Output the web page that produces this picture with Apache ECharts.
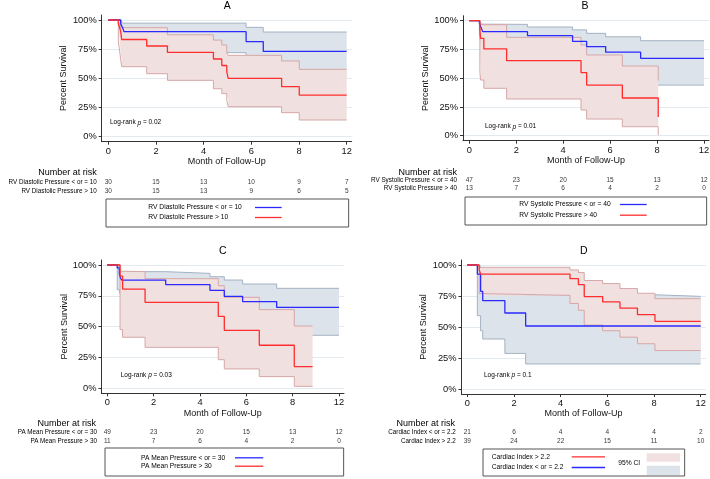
<!DOCTYPE html>
<html><head><meta charset="utf-8">
<script src="https://cdn.jsdelivr.net/npm/echarts@6/dist/echarts.min.js"></script>
<style>html,body{margin:0;padding:0;background:#fff}#c{width:710px;height:479px}</style>
</head><body><div id="c"></div>
<script>
// ================= DATA =================
const xTickPos = [0, 2, 4, 6, 8, 10];
const xTickLabels = ['0', '2', '4', '6', '8', '12'];
const yTickVals = [0, 25, 50, 75, 100];
const riskCols = [0, 2, 4, 6, 8, 10];
const panelTitles = ['A', 'B', 'C', 'D'];
const logRankP = ['0.02', '0.01', '0.03', '0.1'];

// ---- Panel A ----
const groupsA = ['RV Diastolic Pressure < or = 10', 'RV Diastolic Pressure > 10'];
const riskA1 = [30, 15, 13, 10, 9, 7];
const riskA2 = [30, 15, 13, 9, 6, 5];
const kmA1 = [[0,100],[0.52,96.7],[0.6,93.3],[0.66,90],[5.78,81.5],[6.5,73.2],[10,73.2]];
const kmA2 = [[0,100],[0.42,96.7],[0.48,93.3],[0.52,90],[0.56,83.3],[1.61,77.7],[2.48,72.2],[4.41,66.6],[4.76,61],[4.97,55.5],[5.03,50],[7.27,42.9],[8.01,35.7],[10,35.7]];
const ciA1x  = [0, 0.52, 0.6, 0.66, 5.78, 6.5, 10];
const ciA1up = [100, 99, 97.3, 97.3, 93.7, 89.7, 89.7];
const ciA1lo = [100, 88, 80, 72, 62, 52, 52];
const ciA2x  = [0, 0.42, 0.48, 0.52, 0.56, 1.61, 2.48, 4.41, 4.76, 4.97, 5.03, 7.27, 8.01, 10];
const ciA2up = [100, 99, 96, 93.4, 93.4, 93.4, 87.3, 82.8, 78.6, 72, 69.7, 64.9, 57.7, 57.7];
const ciA2lo = [100, 82, 72.6, 66, 60, 54, 48.3, 41.1, 36.9, 31, 25.7, 20.6, 14.3, 14.3];

// ---- Panel B ----
const groupsB = ['RV Systolic Pressure < or = 40', 'RV Systolic Pressure > 40'];
const riskB1 = [47, 23, 20, 15, 13, 12];
const riskB2 = [13, 7, 6, 4, 2, 0];
const kmB1 = [[0,100],[0.43,97.9],[0.5,94],[0.57,90.5],[2.48,87],[4.4,82],[5,77.5],[5.81,72.6],[7.3,67.3],[10,67.3]];
const kmB2 = [[0,100],[0.45,92.3],[0.48,84.6],[0.62,75.5],[1.59,65.2],[4.76,54.8],[5,44],[6.52,32.8],[8.05,16.2]];
const ciB1x  = [0, 0.43, 0.5, 0.57, 2.48, 4.4, 5, 5.81, 7.3, 10];
const ciB1up = [100, 99.5, 97, 96.8, 94.5, 92, 89, 86, 82.6, 82.6];
const ciB1lo = [100, 88, 80, 78, 74, 68, 63, 57, 44, 44];
const ciB2x  = [0, 0.45, 0.48, 0.62, 1.59, 4.76, 5, 6.52, 8.05];
const ciB2up = [100, 97, 96.5, 96.5, 85.5, 78.9, 70.2, 60.6, 48];
const ciB2lo = [100, 55.7, 48.4, 41.2, 31.9, 22.3, 14.5, 7.8, 0.5];

// ---- Panel C ----
const groupsC = ['PA Mean Pressure < or = 30', 'PA Mean Pressure > 30'];
const riskC1 = [49, 23, 20, 15, 13, 12];
const riskC2 = [11, 7, 6, 4, 2, 0];
const kmC1 = [[0,100],[0.43,97.6],[0.52,92.7],[0.57,89.5],[0.62,87.8],[2.52,84.1],[4.43,79.5],[5.05,74.6],[5.84,70.3],[7.31,65.7],[10,65.7]];
const kmC2 = [[0,100],[0.55,90.9],[0.66,80.5],[1.63,69.7],[4.79,58.4],[5.05,47],[6.56,34.9],[8.07,17.6],[8.86,17.6]];
const ciC1x  = [0, 0.43, 0.52, 0.57, 0.62, 2.52, 4.43, 5.05, 5.84, 7.31, 10];
const ciC1up = [100, 99, 96, 94.6, 94.6, 93.2, 90.5, 87.8, 84.6, 81.1, 81.1];
const ciC1lo = [100, 80, 78, 76, 74, 70, 64, 58, 52, 43, 43];
const ciC2x  = [0, 0.55, 0.66, 1.63, 4.79, 5.05, 6.56, 8.07, 8.86];
const ciC2up = [100, 95, 94.6, 88.9, 83.2, 73.8, 63.8, 50.5, 50.5];
const ciC2lo = [100, 47.6, 41.4, 33.2, 23.2, 15.7, 9.5, 1.6, 1.6];

// ---- Panel D ----
const groupsD = ['Cardiac Index < or = 2.2', 'Cardiac Index > 2.2'];
const riskD1 = [21, 6, 4, 4, 4, 2];
const riskD2 = [39, 24, 22, 15, 11, 10];
const kmD1 = [[0,100],[0.43,92.7],[0.57,78.8],[0.66,71.2],[1.61,61.3],[2.5,50.8],[10,50.8]];
const kmD2 = [[0,100],[0.51,96.2],[0.57,92.7],[4.4,89],[4.76,84.1],[5.01,74.5],[5.8,70.2],[6.54,65.3],[7.29,59.9],[8.04,54.6],[10,54.6]];
const ciD1x  = [0, 0.43, 0.57, 0.66, 1.61, 2.5, 8.04, 10];
const ciD1up = [100, 99, 93, 87, 80, 76, 74.7, 74.7];
const ciD1lo = [100, 59.1, 47, 40.3, 28.7, 20.2, 20.2, 20.2];
const ciD2x  = [0, 0.51, 0.57, 4.4, 4.76, 5.01, 5.8, 6.54, 7.29, 8.04, 10];
const ciD2up = [100, 98.1, 98.1, 96, 93.9, 87.5, 85, 81, 77.2, 72.8, 72.8];
const ciD2lo = [100, 77, 75.5, 69, 63.5, 51.5, 47, 41.8, 36.5, 31, 31];

// ================= STYLE / LAYOUT =================
const FONT = '"Liberation Sans", Arial, Helvetica, sans-serif';
const BLUE = '#2a2aff', RED = '#ff2d2d';
const GFILL = '#dde3ea', GEDGE = '#a3b2c3';
const PFILL = '#f1e0e0', PEDGE = '#d6a7a7';
const AXC = '#333';

const panels = [
  { groups: groupsA, risk: [riskA1, riskA2], km: [kmA1, kmA2],
    ci: [[ciA1x, ciA1up, ciA1lo], [ciA2x, ciA2up, ciA2lo]], legendOrder: [0, 1],
    L: { x0: 108.3, x10: 346.7, y100: 20, y0: 136.7, padL: 6.6, nameGapY: 33.5,
         riskTop: 177.5, riskH: 18, riskMargin: 5, narX: 96.7, narY: 172.7,
         title: [227.3, 6.3], lr: [110, 122.7],
         leg: { left: 106, top: 199, pad: [5, 66.3, 6, 42.3], tw: 101.7, iw: 26.7, gap: 3 } } },
  { groups: groupsB, risk: [riskB1, riskB2], km: [kmB1, kmB2],
    ci: [[ciB1x, ciB1up, ciB1lo], [ciB2x, ciB2up, ciB2lo]], legendOrder: [0, 1],
    L: { x0: 469.3, x10: 704, y100: 20.7, y0: 135.7, padL: 6.3, nameGapY: 30.8,
         riskTop: 176.9, riskH: 15.2, riskMargin: 6, narX: 457, narY: 172.7,
         title: [585, 6.3], lr: [485, 126.7],
         leg: { left: 465, top: 197, pad: [4, 59.3, 6.3, 54.3], tw: 95.7, iw: 26.7, gap: 3.7 } } },
  { groups: groupsC, risk: [riskC1, riskC2], km: [kmC1, kmC2],
    ci: [[ciC1x, ciC1up, ciC1lo], [ciC2x, ciC2up, ciC2lo]], legendOrder: [0, 1],
    L: { x0: 107.3, x10: 339, y100: 265, y0: 388.3, padL: 5.8, nameGapY: 29,
         riskTop: 428.5, riskH: 16.6, riskMargin: 4.5, narX: 96, narY: 423.3,
         title: [222.7, 251.3], lr: [120.7, 375],
         leg: { left: 105, top: 448, pad: [6.3, 79.7, 6.3, 36], tw: 89, iw: 28.3, gap: 1.4 } } },
  { groups: groupsD, risk: [riskD1, riskD2], km: [kmD1, kmD2],
    ci: [[ciD1x, ciD1up, ciD1lo], [ciD2x, ciD2up, ciD2lo]], legendOrder: [1, 0],
    L: { x0: 467.3, x10: 700.7, y100: 265, y0: 389, padL: 5.8, nameGapY: 33,
         riskTop: 428.5, riskH: 16.6, riskMargin: 5.7, narX: 455, narY: 424,
         title: [583.7, 251.3], lr: [484, 375],
         leg: { left: 483, top: 449, pad: [4.3, 79, 5, 8.7], tw: 75, iw: 33.3, gap: 3.7 } } }
];

const grid = [], xAxis = [], yAxis = [], series = [], legend = [], graphic = [];
const PADR = 5, PADT = 5, PADB = 5;

panels.forEach((P, p) => {
  const L = P.L;
  const ux = (L.x10 - L.x0) / 10, uy = (L.y0 - L.y100) / 100;
  const xMin = -L.padL / ux, xMax = 10 + PADR / ux;
  const yMin = -PADB / uy, yMax = 100 + PADT / uy;
  const gl = L.x0 - L.padL, gw = (L.x10 + PADR) - gl;
  const gt = L.y100 - PADT, gh = (L.y0 + PADB) - gt;
  grid.push({ left: gl, top: gt, width: gw, height: gh, outerBoundsMode: 'none', containLabel: false });
  grid.push({ left: gl, top: L.riskTop, width: gw, height: L.riskH, outerBoundsMode: 'none', containLabel: false });
  const gi = 2 * p;
  xAxis.push({
    type: 'value', gridIndex: gi, min: xMin, max: xMax,
    axisLine: { show: true, onZero: false, lineStyle: { color: AXC, width: 1 } },
    axisTick: { show: true, length: 3, customValues: xTickPos, lineStyle: { color: AXC, width: 1 } },
    axisLabel: { show: true, customValues: xTickPos, margin: 5, fontSize: 9.3, color: '#111', fontFamily: FONT,
      formatter: v => xTickLabels[Math.round(v / 2)] },
    splitLine: { show: false },
    name: 'Month of Follow-Up', nameLocation: 'middle', nameGap: 15.5,
    nameTextStyle: { fontSize: 9, color: '#111', fontFamily: FONT }
  });
  xAxis.push({ type: 'value', gridIndex: gi + 1, min: xMin, max: xMax, show: false });
  yAxis.push({
    type: 'value', gridIndex: gi, min: yMin, max: yMax,
    axisLine: { show: true, onZero: false, lineStyle: { color: AXC, width: 1 } },
    axisTick: { show: true, length: 3, customValues: yTickVals, lineStyle: { color: AXC, width: 1 } },
    axisLabel: { show: true, customValues: yTickVals, margin: 5, fontSize: 9.3, color: '#111', fontFamily: FONT,
      formatter: v => Math.round(v) + '%' },
    splitLine: { show: true, lineStyle: { color: '#e2eaf0', width: 1 } },
    name: 'Percent Survival', nameLocation: 'middle', nameGap: L.nameGapY, nameRotate: 90,
    nameTextStyle: { fontSize: 9, color: '#111', fontFamily: FONT }
  });
  yAxis.push({
    type: 'category', gridIndex: gi + 1, data: P.groups, inverse: true,
    axisLine: { show: false }, axisTick: { show: false }, splitLine: { show: false },
    axisLabel: { fontSize: 6.3, color: '#000', margin: L.riskMargin, fontFamily: FONT, interval: 0 }
  });

  // CI bands: stacked (lower + width); dims stored as [value, time] so the stack runs on y
  const fills = [[GFILL, GEDGE], [PFILL, PEDGE]];
  const colors = [BLUE, RED];
  [0, 1].forEach(g => {
    const [xs, up, lo] = P.ci[g];
    const stack = 'ci' + p + '_' + g;
    const z = 1 + g;
    series.push({
      type: 'line', xAxisIndex: gi, yAxisIndex: gi, stack, step: 'end', symbol: 'none', silent: true,
      encode: { x: 1, y: 0 }, z,
      data: xs.map((x, i) => [lo[i], x]), lineStyle: { color: fills[g][1], width: 1 }
    });
    series.push({
      type: 'line', xAxisIndex: gi, yAxisIndex: gi, stack, step: 'end', symbol: 'none', silent: true,
      encode: { x: 1, y: 0 }, z,
      data: xs.map((x, i) => [up[i] - lo[i], x]), lineStyle: { color: fills[g][1], width: 1 },
      areaStyle: { color: fills[g][0], opacity: 1 }
    });
  });
  [0, 1].forEach(g => {
    series.push({
      type: 'line', name: P.groups[g], xAxisIndex: gi, yAxisIndex: gi, step: 'end', symbol: 'none',
      data: P.km[g], lineStyle: { color: colors[g], width: 1.3 }, itemStyle: { color: colors[g] }, z: 4
    });
  });
  // number at risk
  const riskData = [];
  P.risk.forEach((row, r) => row.forEach((n, c) => riskData.push([riskCols[c], r, n])));
  series.push({
    type: 'scatter', xAxisIndex: gi + 1, yAxisIndex: gi + 1, symbolSize: 1, silent: true,
    itemStyle: { color: 'rgba(0,0,0,0)' }, data: riskData,
    label: { show: true, position: 'inside', formatter: q => String(q.value[2]), fontSize: 6.5, color: '#000', fontFamily: FONT }
  });
  // legend
  const lg = L.leg;
  legend.push({
    left: lg.left, top: lg.top, orient: 'vertical', align: 'right', padding: lg.pad,
    itemWidth: lg.iw, itemHeight: 8, itemGap: lg.gap, selectedMode: false,
    borderColor: '#555', borderWidth: 1, backgroundColor: '#fff',
    itemStyle: { opacity: 0, color: 'rgba(0,0,0,0)', borderWidth: 0 },
    lineStyle: { width: 1.3 },
    data: P.legendOrder.map(i => P.groups[i]),
    formatter: '{t|{name}}',
    textStyle: { fontSize: 6.7, color: '#000', fontFamily: FONT,
      rich: { t: { width: lg.tw, align: 'left', fontSize: 6.7, fontFamily: FONT, color: '#000' } } }
  });
  // titles and annotations
  graphic.push({ type: 'text', x: L.title[0], y: L.title[1], z: 100,
    style: { text: panelTitles[p], fontSize: 10.5, fontFamily: FONT, fill: '#000', align: 'center', verticalAlign: 'middle' } });
  graphic.push({ type: 'text', x: L.narX, y: L.narY, z: 100,
    style: { text: 'Number at risk', fontSize: 9, fontFamily: FONT, fill: '#000', align: 'right', verticalAlign: 'middle' } });
  graphic.push({ type: 'text', x: L.lr[0], y: L.lr[1], z: 100,
    style: { text: '{n|Log-rank }{i|p}{n| = ' + logRankP[p] + '}', align: 'left', verticalAlign: 'middle',
      rich: { n: { fontSize: 6.5, fontFamily: FONT, fill: '#000' }, i: { fontSize: 6.5, fontFamily: FONT, fontStyle: 'italic', fill: '#000' } } } });
});

// 95% CI key in panel D legend
graphic.push({ type: 'text', x: 618.3, y: 463, z: 100,
  style: { text: '95% CI', fontSize: 6.7, fontFamily: FONT, fill: '#000', align: 'left', verticalAlign: 'middle' } });
graphic.push({ type: 'rect', z: 100, shape: { x: 646.7, y: 453.3, width: 33.3, height: 8.4 }, style: { fill: PFILL } });
graphic.push({ type: 'rect', z: 100, shape: { x: 646.7, y: 465.7, width: 33.3, height: 9.3 }, style: { fill: GFILL } });

const chart = echarts.init(document.getElementById('c'), null, { renderer: 'canvas' });
chart.setOption({
  animation: false, backgroundColor: '#fff',
  textStyle: { fontFamily: FONT },
  grid, xAxis, yAxis, series, legend, graphic
});
</script></body></html>
